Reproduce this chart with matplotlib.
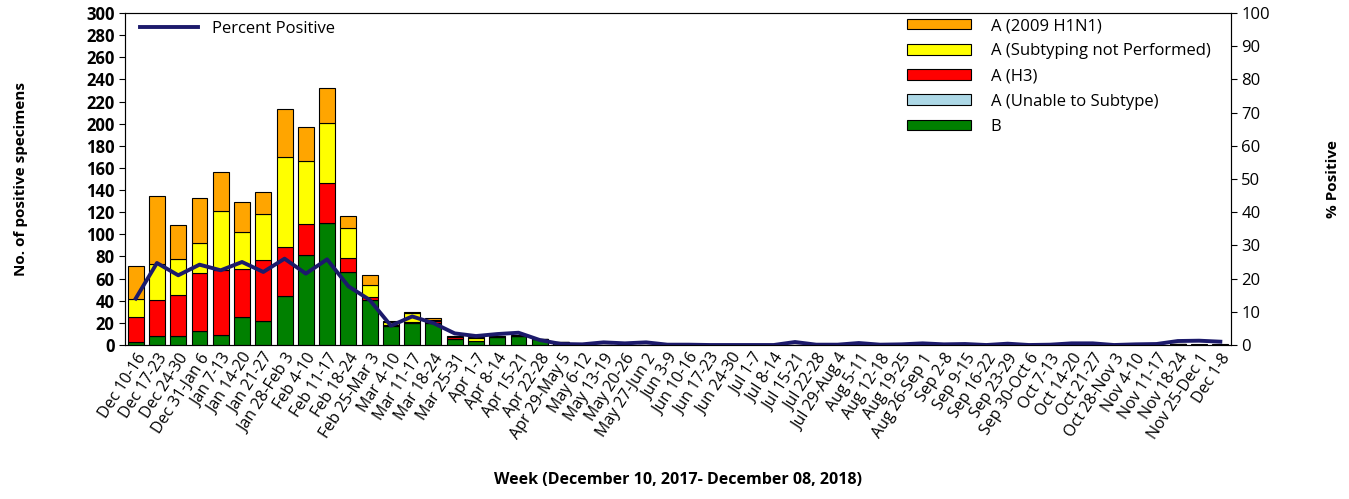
import matplotlib.pyplot as plt
import numpy as np

plt.rcParams['font.family'] = ['Open Sans', 'DejaVu Sans']

# Недели
weeks = ['Dec 10-16', 'Dec 17-23', 'Dec 24-30', 'Dec 31-Jan 6', 'Jan 7-13', 'Jan 14-20',
         'Jan 21-27', 'Jan 28-Feb 3', 'Feb 4-10', 'Feb 11-17', 'Feb 18-24', 'Feb 25-Mar 3',
         'Mar 4-10', 'Mar 11-17', 'Mar 18-24', 'Mar 25-31', 'Apr 1-7', 'Apr 8-14',
         'Apr 15-21', 'Apr 22-28', 'Apr 29-May 5', 'May 6-12', 'May 13-19', 'May 20-26',
         'May 27-Jun 2', 'Jun 3-9', 'Jun 10-16', 'Jun 17-23', 'Jun 24-30', 'Jul 1-7',
         'Jul 8-14', 'Jul 15-21', 'Jul 22-28', 'Jul 29-Aug 4', 'Aug 5-11', 'Aug 12-18',
         'Aug 19-25', 'Aug 26-Sep 1', 'Sep 2-8', 'Sep 9-15', 'Sep 16-22', 'Sep 23-29',
         'Sep 30-Oct 6', 'Oct 7-13', 'Oct 14-20', 'Oct 21-27', 'Oct 28-Nov 3', 'Nov 4-10',
         'Nov 11-17', 'Nov 18-24', 'Nov 25-Dec 1', 'Dec 1-8']

zeros30 = [0] * 30
b_vals = [3, 8, 8, 13, 9, 25, 22, 44, 81, 110, 66, 41, 17, 20, 20, 5, 4, 7, 8, 5,
          3, 1] + zeros30[:27] + [1, 0, 0]
unable_vals = [0] * 52
h3_vals = [22, 33, 37, 52, 59, 44, 55, 45, 28, 36, 13, 2, 1, 1, 2, 2, 0, 0, 0, 0,
           0, 0] + zeros30
notperf_vals = [17, 32, 33, 27, 53, 33, 41, 81, 57, 55, 27, 11, 3, 8, 1, 0, 2, 1, 0, 0,
                0, 0] + zeros30
h1n1_vals = [29, 62, 30, 41, 35, 27, 20, 43, 31, 31, 11, 9, 1, 1, 1, 1, 1, 0, 1, 0,
             0, 0] + zeros30[:28] + [1, 1]
pct_pos = [14, 24.7, 21, 24.2, 22.5, 25, 22, 26, 21.5, 25.8, 17.7, 13.6, 5.8, 8.6, 6.6,
           3.5, 2.7, 3.3, 3.7, 1.5, 0.3, 0.2, 0.8, 0.5, 0.8, 0.1, 0.1, 0, 0, 0,
           0, 0.9, 0.1, 0.1, 0.6, 0.1, 0.2, 0.5, 0.2, 0.3, 0, 0.4, 0, 0.1, 0.5,
           0.5, 0, 0.2, 0.3, 1.2, 1.3, 1.0]

x = np.arange(len(weeks))
fig = plt.figure(figsize=(13.49, 4.99), dpi=100)
ax = fig.add_axes([0.0927, 0.3086, 0.8198, 0.6654])

# Столбцы
series = [(b_vals, 'B', '#008000'),
          (unable_vals, 'A (Unable to Subtype)', '#ADD8E6'),
          (h3_vals, 'A (H3)', '#FF0000'),
          (notperf_vals, 'A (Subtyping not Performed)', '#FFFF00'),
          (h1n1_vals, 'A (2009 H1N1)', '#FFA500')]
bottom = np.zeros(len(weeks))
handles = []
for vals, name, col in series:
    h = ax.bar(x, vals, 0.75, bottom=bottom, color=col, edgecolor='black',
               linewidth=0.8, label=name)
    handles.append(h)
    bottom += np.array(vals)

ax.set_xlim(-0.5, len(weeks) - 0.5)
ax.set_ylim(0, 300)
ax.set_yticks(range(0, 301, 20))
ax.set_xticks(x)
ax.set_xticklabels(weeks, rotation=57, ha='right', rotation_mode='anchor', fontsize=11.5)
ax.tick_params(axis='x', length=0, pad=4)
ax.tick_params(axis='y', labelsize=12, length=4)
for t in ax.get_yticklabels():
    t.set_fontweight('bold')
ax.set_ylabel('No. of positive specimens', fontsize=11, fontweight='bold', labelpad=42)
ax.set_xlabel('Week (December 10, 2017- December 08, 2018)', fontsize=11.5,
              fontweight='bold', labelpad=22)
for s in ax.spines.values():
    s.set_color('#555555')

# Процент положительных
ax2 = ax.twinx()
line, = ax2.plot(x, pct_pos, color='#1C1A6B', linewidth=2.8, label='Percent Positive')
ax2.set_ylim(0, 100)
ax2.set_yticks(range(0, 101, 10))
ax2.tick_params(axis='y', labelsize=12, length=4)
ax2.set_ylabel('% Positive', fontsize=11, fontweight='bold', labelpad=40)

leg1 = ax2.legend(handles=[line], loc='upper left', frameon=False, fontsize=12,
                  handlelength=3.5, bbox_to_anchor=(0.0, 1.02))
ax2.add_artist(leg1)
ax2.legend(handles=handles[::-1], loc='upper right', frameon=False, fontsize=12,
           handlelength=3.8, handleheight=0.6, handletextpad=1.2, labelspacing=0.55,
           bbox_to_anchor=(0.995, 1.03))

fig.savefig('out.png', dpi=100)
